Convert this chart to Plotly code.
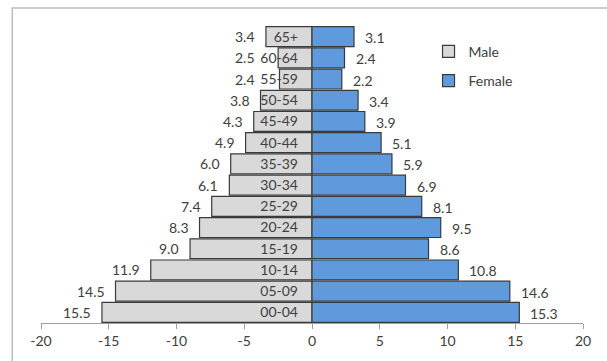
import plotly.graph_objects as go

# Age groups, bottom to top
age_groups = ["00-04", "05-09", "10-14", "15-19", "20-24", "25-29", "30-34",
              "35-39", "40-44", "45-49", "50-54", "55-59", "60-64", "65+"]
male = [15.5, 14.5, 11.9, 9.0, 8.3, 7.4, 6.1, 6.0, 4.9, 4.3, 3.8, 2.4, 2.5, 3.4]
female = [15.3, 14.6, 10.8, 8.6, 9.5, 8.1, 6.9, 5.9, 5.1, 3.9, 3.4, 2.2, 2.4, 3.1]
x_ticks = [-20, -15, -10, -5, 0, 5, 10, 15, 20]

FONT = "Lato, 'Open Sans', sans-serif"
TEXT = "#404040"
OUTLINE = "#3a3a3a"
# male value labels never sit closer to zero than this, so they stay clear
# of the age-group text printed inside the short bars
MIN_LABEL_POS = 3.4

fig = go.Figure()
fig.add_trace(go.Bar(
    y=age_groups, x=[-v for v in male], orientation="h", name="Male",
    marker=dict(color="#d9d9d9", line=dict(color=OUTLINE, width=1.2)),
    legendgroup="m", hoverinfo="skip",
))
fig.add_trace(go.Bar(
    y=age_groups, x=female, orientation="h", name="Female",
    marker=dict(color="#5f9bdc", line=dict(color=OUTLINE, width=1.2)),
    legendgroup="f", hoverinfo="skip",
))

# Value labels just beyond the bar ends
annotations = []
for g, m, f in zip(age_groups, male, female):
    annotations.append(dict(x=-max(m, MIN_LABEL_POS), y=g, text=f"{m:.1f}",
                            showarrow=False, xanchor="right", xshift=-9,
                            font=dict(family=FONT, size=14, color=TEXT)))
    annotations.append(dict(x=f, y=g, text=f"{f:.1f}", showarrow=False,
                            xanchor="left", xshift=9, yshift=-1,
                            font=dict(family=FONT, size=14, color=TEXT)))

fig.update_layout(
    width=607, height=361,
    margin=dict(l=41, r=24, t=26, b=38),
    paper_bgcolor="white", plot_bgcolor="white",
    barmode="relative", bargap=0.06,
    font=dict(family=FONT, size=14, color=TEXT),
    showlegend=True,
    legend=dict(x=0.715, y=0.967, xanchor="left", yanchor="top",
                bgcolor="rgba(0,0,0,0)", tracegroupgap=8,
                traceorder="grouped",
                font=dict(family=FONT, size=14, color=TEXT)),
    xaxis=dict(range=[-20, 20], tickvals=x_ticks, ticktext=[str(v) for v in x_ticks],
               showgrid=False, zeroline=False, showline=True,
               linecolor="#a0a0a0", linewidth=1, ticks="outside",
               ticklen=5, tickcolor="#a0a0a0",
               tickfont=dict(family=FONT, size=14, color=TEXT)),
    yaxis=dict(type="category", categoryorder="array", categoryarray=age_groups,
               anchor="free", position=0.5, showgrid=False, zeroline=False,
               showline=False, ticks="", ticklabelstandoff=14,
               range=[-0.5, len(age_groups) - 0.5],
               tickfont=dict(family=FONT, size=14, color=TEXT)),
    annotations=annotations,
    shapes=[dict(type="rect", xref="paper", yref="paper",
                 x0=-0.053, x1=1.2, y0=-0.3, y1=1.061,
                 line=dict(color="#bdbdbd", width=1.5), layer="below")],
)

fig.write_html("out.html")
